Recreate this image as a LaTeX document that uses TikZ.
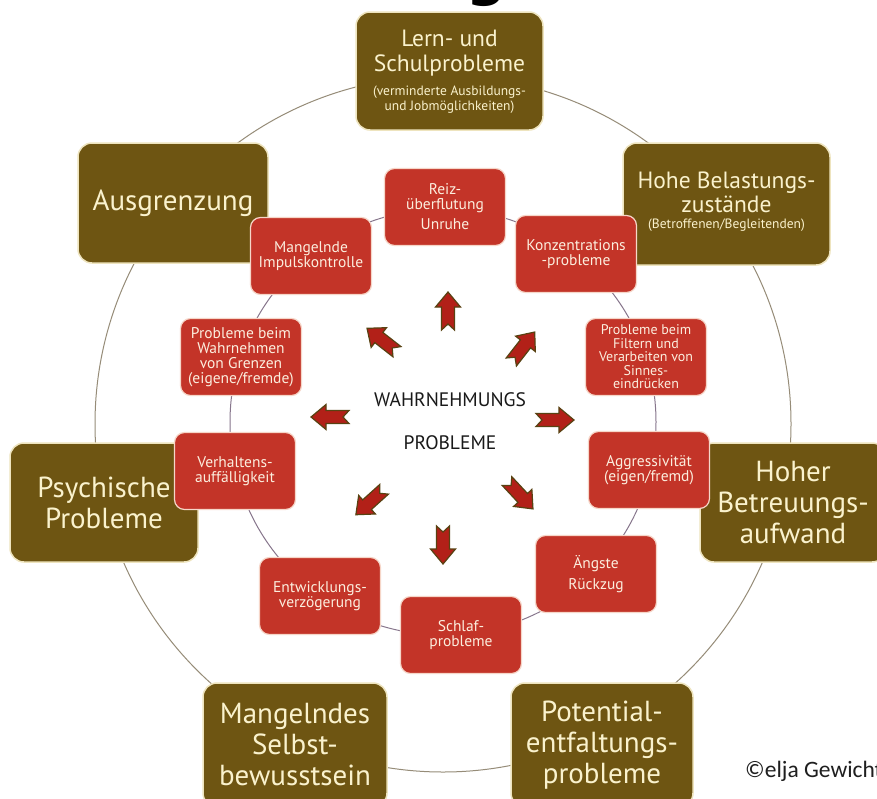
\documentclass[tikz,border=0pt]{standalone}
\usepackage{fontspec}
\setmainfont{PT Sans}
\newfontfamily\titlefont{DejaVu Sans}
\newfontfamily\notefont{Carlito}
\usetikzlibrary{positioning}
\definecolor{olivebox}{RGB}{110,85,18}
\definecolor{olivering}{RGB}{238,228,190}
\definecolor{outertext}{RGB}{250,242,205}
\definecolor{redbox}{RGB}{195,52,40}
\definecolor{redring}{RGB}{246,214,200}
\definecolor{innertext}{RGB}{252,238,222}
\definecolor{arrowred}{RGB}{178,32,24}
\definecolor{arrowrim}{RGB}{88,66,18}
\definecolor{outerline}{RGB}{150,140,120}
\definecolor{innerline}{RGB}{135,118,140}

\begin{document}
\begin{tikzpicture}[x=1pt, y=-1pt,
  outerbox/.style={draw=olivering, line width=1.5pt, fill=olivebox, rounded corners=14pt, inner sep=0pt},
  bigtext/.style={text=outertext, align=center, inner sep=0pt, font=\fontsize{29}{31}\selectfont},
  midtext/.style={text=outertext, align=center, inner sep=0pt, font=\fontsize{23.5}{24}\selectfont},
  smalltext/.style={text=outertext, align=center, inner sep=0pt, font=\fontsize{13.5}{15}\selectfont},
  innerbox/.style={draw=redring, line width=1.2pt, fill=redbox, rounded corners=10pt, text=innertext, align=center,
    minimum width=121pt, minimum height=77pt, inner sep=0pt, font=\fontsize{15.5}{15}\selectfont},
  blockarrow/.pic={\draw[fill=arrowred, draw=arrowrim, line width=1.2pt]
    (-19,-6.5) -- (4,-6.5) -- (4,-12.5) -- (19,0) -- (4,12.5) -- (4,6.5) -- (-19,6.5) -- (-13,0) -- cycle;},
]
\useasboundingbox (0,0) rectangle (877,798);
\clip (0,0) rectangle (877,798);
\fill[white] (0,0) rectangle (877,798);

\node[font=\titlefont\bfseries\fontsize{56}{56}\selectfont, anchor=base, inner sep=0pt] (title) at (487,-6) {g};

\coordinate (mid) at (443,424);
\draw[outerline, line width=1pt] (mid) circle (348);
\draw[innerline, line width=1pt] (443,422) circle (213);

\node[outerbox, minimum width=187pt, minimum height=118pt] (lern) at (449.5,71) {};
\node[midtext, font=\fontsize{23.5}{25}\selectfont] (lerntitle) at (449.5,53.5) {Lern- und\\Schulprobleme};
\node[smalltext, below=9pt of lerntitle] (lernsub) {(verminderte Ausbildungs-\\und Jobmöglichkeiten)};

\node[outerbox, minimum width=207pt, minimum height=122pt] (belast) at (726.5,204) {};
\node[midtext] (belasttitle) at (726.5,192) {Hohe Belastungs-\\zustände};
\node[smalltext, below=6pt of belasttitle] (belastsub) {(Betroffenen/Begleitenden)};

\node[outerbox, minimum width=186pt, minimum height=119pt] (betreu) at (793,502.5) {};
\node[bigtext] at (betreu) {Hoher\\Betreuungs-\\aufwand};

\node[outerbox, minimum width=182pt, minimum height=124pt] (potent) at (602,745) {};
\node[bigtext] at (potent) {Potential-\\entfaltungs-\\probleme};

\node[outerbox, minimum width=184pt, minimum height=124pt] (selbst) at (295,745) {};
\node[bigtext] at (selbst) {Mangelndes\\Selbst-\\bewusstsein};

\node[outerbox, minimum width=188pt, minimum height=119pt] (psych) at (104,502.5) {};
\node[bigtext] at (psych) {Psychische\\Probleme};

\node[outerbox, minimum width=190pt, minimum height=120pt] (ausgr) at (173,203) {};
\node[bigtext] at (ausgr) {Ausgrenzung};

\node[innerbox] (reiz) at (445,207) {Reiz-\\überflutung\\[5pt]Unruhe};
\node[innerbox] (konz) at (576,254) {Konzentrations\\-probleme};
\node[innerbox, font=\fontsize{14}{13.5}\selectfont] (filter) at (646,357) {Probleme beim\\Filtern und\\Verarbeiten von\\Sinnes-\\eindrücken};
\node[innerbox] (aggr) at (649,470) {Aggressivität\\(eigen/fremd)};
\node[innerbox] (angst) at (596,574) {Ängste\\[6pt]Rückzug};
\node[innerbox] (schlaf) at (461,635) {Schlaf-\\probleme};
\node[innerbox] (entw) at (320,596) {Entwicklungs-\\verzögerung};
\node[innerbox] (verh) at (235,471) {Verhaltens-\\auffälligkeit};
\node[innerbox] (grenz) at (241,357) {Probleme beim\\Wahrnehmen\\von Grenzen\\(eigene/fremde)};
\node[innerbox] (impuls) at (311,256) {Mangelnde\\Impulskontrolle};

\node[font=\fontsize{19.5}{20}\selectfont, text=black!90] (wahr) at (450,400) {WAHRNEHMUNGS};
\node[font=\fontsize{19.5}{20}\selectfont, text=black!90] (prob) at (450,443) {PROBLEME};

\foreach \px/\py/\ang [count=\i] in {448/311/90, 382/340/142, 523/347/52, 330/417/180,
    555/420/0, 370/502/222, 520/495/313, 443/545/270}
  \pic[rotate=\ang] (arrow\i) at (\px,\py) {blockarrow};

\node[font=\notefont\fontsize{23.5}{24}\selectfont, text=black!88, anchor=base west, inner sep=0pt] (copy) at (745,777) {©elja Gewicht};
\end{tikzpicture}
\end{document}
